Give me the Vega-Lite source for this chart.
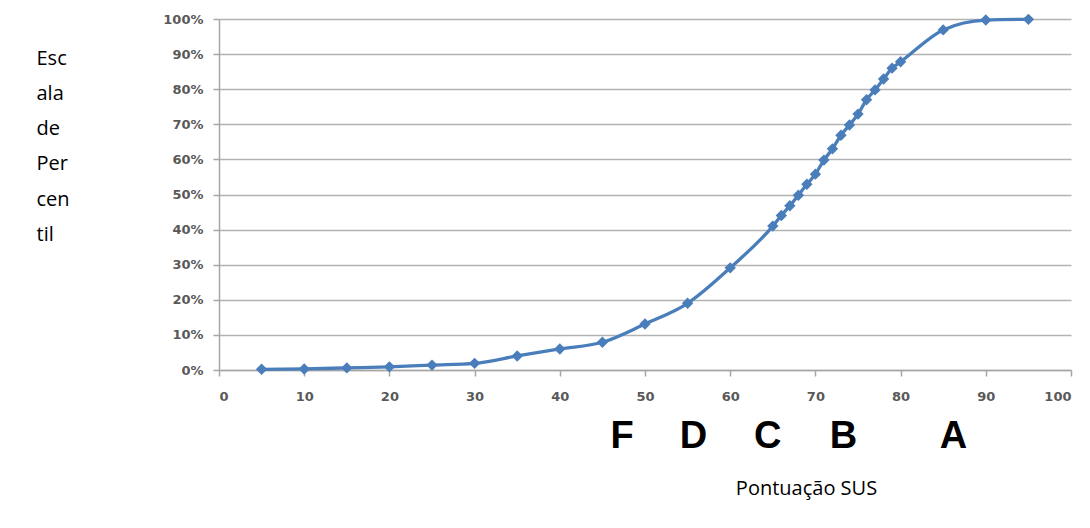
{
  "$schema": "https://vega.github.io/schema/vega-lite/v6.json",
  "width": 852,
  "height": 351,
  "autosize": {"type": "none"},
  "padding": {"left": 219, "top": 19, "right": 19, "bottom": 158},
  "background": "white",
  "config": {
    "view": {"stroke": null},
    "axis": {
      "labelFont": "DejaVu Sans",
      "labelFontWeight": "bold",
      "labelFontSize": 13,
      "labelColor": "#595959",
      "labelOverlap": false,
      "domainColor": "#a6a6a6",
      "domainWidth": 1.5,
      "tickColor": "#a6a6a6",
      "tickWidth": 1.5,
      "tickSize": 6,
      "gridColor": "#b3b3b3",
      "gridWidth": 1.5
    }
  },
  "data": {
    "values": [
      {"score": 5, "pct": 0.002},
      {"score": 10, "pct": 0.003},
      {"score": 15, "pct": 0.006},
      {"score": 20, "pct": 0.009},
      {"score": 25, "pct": 0.014},
      {"score": 30, "pct": 0.019},
      {"score": 35, "pct": 0.04},
      {"score": 40, "pct": 0.06},
      {"score": 45, "pct": 0.079},
      {"score": 50, "pct": 0.131},
      {"score": 55, "pct": 0.19},
      {"score": 60, "pct": 0.291},
      {"score": 65, "pct": 0.41},
      {"score": 66, "pct": 0.44},
      {"score": 67, "pct": 0.468},
      {"score": 68, "pct": 0.498},
      {"score": 69, "pct": 0.529},
      {"score": 70, "pct": 0.558},
      {"score": 71, "pct": 0.598},
      {"score": 72, "pct": 0.63},
      {"score": 73, "pct": 0.669},
      {"score": 74, "pct": 0.698},
      {"score": 75, "pct": 0.729},
      {"score": 76, "pct": 0.77},
      {"score": 77, "pct": 0.798},
      {"score": 78, "pct": 0.829},
      {"score": 79, "pct": 0.86},
      {"score": 80, "pct": 0.878},
      {"score": 85, "pct": 0.969},
      {"score": 90, "pct": 0.997},
      {"score": 95, "pct": 0.999}
    ]
  },
  "encoding": {
    "x": {
      "field": "score",
      "type": "quantitative",
      "scale": {"domain": [0, 100], "nice": false},
      "axis": {
        "values": [0, 10, 20, 30, 40, 50, 60, 70, 80, 90, 100],
        "labelOverlap": false,
        "grid": false,
        "labelPadding": 14,
        "title": "Pontuação SUS",
        "titleFont": "Open Sans",
        "titleFontWeight": "normal",
        "titleFontSize": 20,
        "titleColor": "#000000",
        "titleAnchor": "start",
        "titleAlign": "center",
        "titleBaseline": "alphabetic",
        "titleX": 587,
        "titleY": 124
      }
    },
    "y": {
      "field": "pct",
      "type": "quantitative",
      "scale": {"domain": [0, 1], "nice": false},
      "axis": {
        "values": [0, 0.1, 0.2, 0.3, 0.4, 0.5, 0.6, 0.7, 0.8, 0.9, 1],
        "labelOverlap": false,
        "format": ".0%",
        "labelPadding": 10,
        "title": ["Esc", "ala", "de", "Per", "cen", "til"],
        "titleFont": "Open Sans",
        "titleFontWeight": "normal",
        "titleFontSize": 20,
        "titleColor": "#000000",
        "titleAngle": 0,
        "titleAlign": "left",
        "titleAnchor": "start",
        "titleBaseline": "alphabetic",
        "titleLineHeight": 35.3,
        "titleX": -183,
        "titleY": 45
      }
    }
  },
  "layer": [
    {
      "mark": {"type": "line", "color": "#4A7EBB", "strokeWidth": 3.3, "interpolate": "monotone"}
    },
    {
      "mark": {"type": "point", "shape": "diamond", "filled": true, "opacity": 1, "color": "#4A7EBB", "size": 130}
    },
    {
      "data": {
        "values": [
          {"grade": "F", "score": 47.3},
          {"grade": "D", "score": 55.7},
          {"grade": "C", "score": 64.4},
          {"grade": "B", "score": 73.3},
          {"grade": "A", "score": 86.2}
        ]
      },
      "mark": {"type": "text", "font": "Liberation Sans", "fontWeight": "bold", "fontSize": 38, "color": "#000000", "align": "center", "baseline": "alphabetic", "dy": 77.5},
      "encoding": {
        "y": {"value": 351},
        "text": {"field": "grade"}
      }
    }
  ]
}
